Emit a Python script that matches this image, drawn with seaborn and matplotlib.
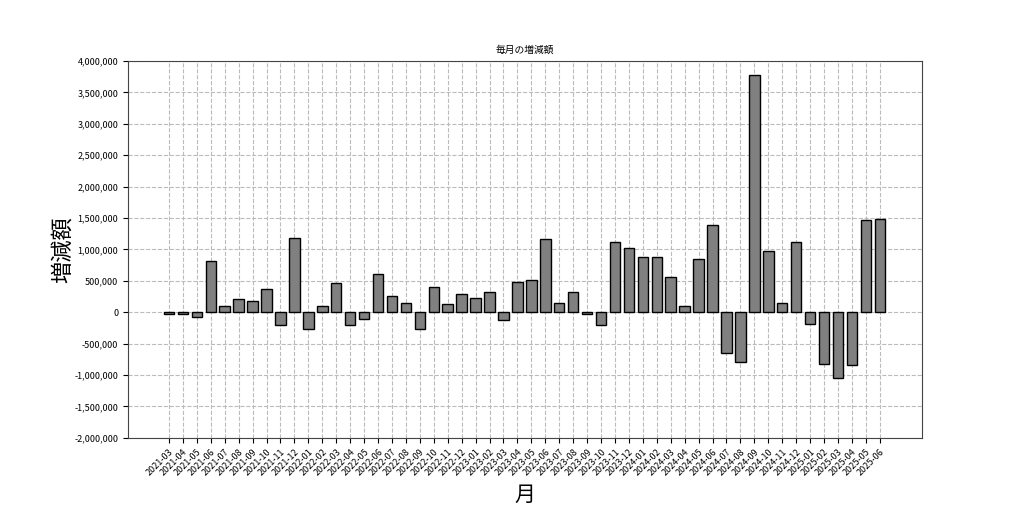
import matplotlib
matplotlib.use("Agg")
import matplotlib.pyplot as plt
import matplotlib.ticker as mticker
import pandas as pd
import seaborn as sns

months = (
    [f"2021-{m:02d}" for m in range(3, 13)]
    + [f"2022-{m:02d}" for m in range(1, 13)]
    + [f"2023-{m:02d}" for m in range(1, 13)]
    + [f"2024-{m:02d}" for m in range(1, 13)]
    + [f"2025-{m:02d}" for m in range(1, 7)]
)
changes = [
    -35000, -20000, -74000, 816000, 105000, 210000, 179000, 363000, -210000, 1189000,
    -263000, 95000, 463000, -200000, -105000, 610000, 253000, 147000, -274000, 410000, 126000, 284000,
    232000, 326000, -126000, 474000, 521000, 1168000, 147000, 326000, -20000, -200000, 1126000, 1026000,
    874000, 874000, 568000, 95000, 853000, 1395000, -653000, -789000, 3779000, 968000, 147000, 1116000,
    -189000, -832000, -1053000, -842000, 1463000, 1484000,
]

df = pd.DataFrame({"月": months, "増減額": changes})

plt.rcParams["font.family"] = ["Noto Sans CJK JP", "DejaVu Sans"]

fig, ax = plt.subplots(figsize=(10.24, 5.05), dpi=100)
fig.subplots_adjust(left=0.125, right=0.9, top=0.879, bottom=0.133)

sns.barplot(data=df, x="月", y="増減額", color="gray", saturation=1,
            edgecolor="black", linewidth=1, width=0.75, ax=ax)

ax.set_xlim(-2.94, 54.0)
ax.set_ylim(-2000000, 4000000)
ax.yaxis.set_major_locator(mticker.MultipleLocator(500000))
ax.yaxis.set_major_formatter(mticker.FuncFormatter(lambda v, p: f"{v:,.0f}"))
ax.grid(True, linestyle="--", color="#bbbbbb", linewidth=0.8)
ax.set_axisbelow(True)

ax.set_title("毎月の増減額", fontsize=7)
ax.set_xlabel("月", fontsize=15)
ax.set_ylabel("増減額", fontsize=16, labelpad=0)
plt.setp(ax.get_xticklabels(), rotation=45, ha="right", rotation_mode="anchor", fontsize=6.5)
plt.setp(ax.get_yticklabels(), fontsize=6.5)
for s in ax.spines.values():
    s.set_color("#444444")

fig.savefig("out.png", dpi=100)
